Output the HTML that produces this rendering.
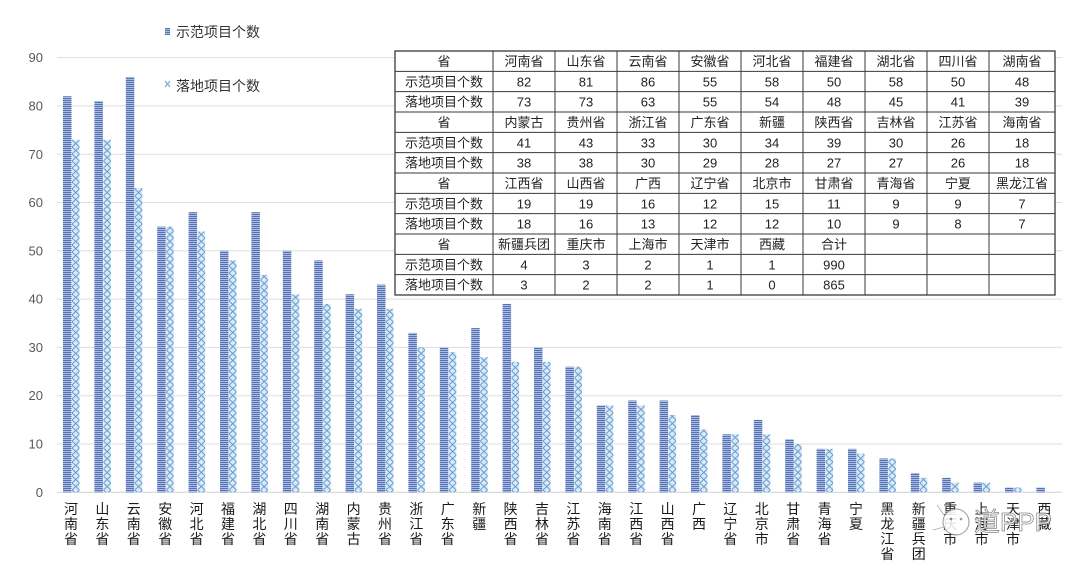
<!DOCTYPE html>
<html><head><meta charset="utf-8"><style>
html,body{margin:0;padding:0;background:#fff;}
svg{display:block;}
text{font-family:"Liberation Sans","Noto Sans CJK SC",sans-serif;}
</style></head><body>
<svg width="1080" height="572" viewBox="0 0 1080 572" xmlns="http://www.w3.org/2000/svg">
<defs>
<pattern id="st" patternUnits="userSpaceOnUse" width="9" height="2">
<rect x="0" y="0" width="9" height="2" fill="#b6c4e6"/>
<rect x="0" y="0" width="9" height="1.1" fill="#5572b4"/>
</pattern>
<pattern id="cr" patternUnits="userSpaceOnUse" width="7.5" height="7">
<rect x="0" y="0" width="7.5" height="7" fill="#d4ecf9"/>
<path d="M0,0 L7.5,7 M7.5,0 L0,7" stroke="#6590c8" stroke-width="0.9" fill="none"/>
</pattern>
</defs>
<rect width="1080" height="572" fill="#fff"/>
<g stroke="#dedede" stroke-width="1">
<line x1="57" y1="57.6" x2="1062" y2="57.6"/>
<line x1="57" y1="105.9" x2="1062" y2="105.9"/>
<line x1="57" y1="154.2" x2="1062" y2="154.2"/>
<line x1="57" y1="202.5" x2="1062" y2="202.5"/>
<line x1="57" y1="250.8" x2="1062" y2="250.8"/>
<line x1="57" y1="299.1" x2="1062" y2="299.1"/>
<line x1="57" y1="347.4" x2="1062" y2="347.4"/>
<line x1="57" y1="395.7" x2="1062" y2="395.7"/>
<line x1="57" y1="444" x2="1062" y2="444"/>
<line x1="57" y1="492.3" x2="1062" y2="492.3" stroke="#d0d0d0"/>
</g>
<g font-size="13" fill="#595959" text-anchor="end">
<text x="43" y="62">90</text>
<text x="43" y="110.5">80</text>
<text x="43" y="158.8">70</text>
<text x="43" y="207">60</text>
<text x="43" y="255.3">50</text>
<text x="43" y="303.6">40</text>
<text x="43" y="352">30</text>
<text x="43" y="400.2">20</text>
<text x="43" y="448.5">10</text>
<text x="43" y="496.8">0</text>
</g>
<rect x="165" y="28" width="5" height="7" fill="url(#st)"/>
<text x="176" y="37" font-size="14" fill="#333">示范项目个数</text>
<path d="M165,81 L170,87 M170,81 L165,87" stroke="#7fa6d6" stroke-width="1.2"/>
<text x="176" y="91" font-size="14" fill="#333">落地项目个数</text>
<g transform="translate(57,0)"><rect x="6" y="96.24" width="8.5" height="396.06" fill="url(#st)"/><rect x="15" y="139.71" width="7.5" height="352.59" fill="url(#cr)"/></g>
<g transform="translate(88.4,0)"><rect x="6" y="101.07" width="8.5" height="391.23" fill="url(#st)"/><rect x="15" y="139.71" width="7.5" height="352.59" fill="url(#cr)"/></g>
<g transform="translate(119.8,0)"><rect x="6" y="76.92" width="8.5" height="415.38" fill="url(#st)"/><rect x="15" y="188.01" width="7.5" height="304.29" fill="url(#cr)"/></g>
<g transform="translate(151.2,0)"><rect x="6" y="226.65" width="8.5" height="265.65" fill="url(#st)"/><rect x="15" y="226.65" width="7.5" height="265.65" fill="url(#cr)"/></g>
<g transform="translate(182.6,0)"><rect x="6" y="212.16" width="8.5" height="280.14" fill="url(#st)"/><rect x="15" y="231.48" width="7.5" height="260.82" fill="url(#cr)"/></g>
<g transform="translate(214,0)"><rect x="6" y="250.8" width="8.5" height="241.5" fill="url(#st)"/><rect x="15" y="260.46" width="7.5" height="231.84" fill="url(#cr)"/></g>
<g transform="translate(245.4,0)"><rect x="6" y="212.16" width="8.5" height="280.14" fill="url(#st)"/><rect x="15" y="274.95" width="7.5" height="217.35" fill="url(#cr)"/></g>
<g transform="translate(276.8,0)"><rect x="6" y="250.8" width="8.5" height="241.5" fill="url(#st)"/><rect x="15" y="294.27" width="7.5" height="198.03" fill="url(#cr)"/></g>
<g transform="translate(308.2,0)"><rect x="6" y="260.46" width="8.5" height="231.84" fill="url(#st)"/><rect x="15" y="303.93" width="7.5" height="188.37" fill="url(#cr)"/></g>
<g transform="translate(339.6,0)"><rect x="6" y="294.27" width="8.5" height="198.03" fill="url(#st)"/><rect x="15" y="308.76" width="7.5" height="183.54" fill="url(#cr)"/></g>
<g transform="translate(371,0)"><rect x="6" y="284.61" width="8.5" height="207.69" fill="url(#st)"/><rect x="15" y="308.76" width="7.5" height="183.54" fill="url(#cr)"/></g>
<g transform="translate(402.4,0)"><rect x="6" y="332.91" width="8.5" height="159.39" fill="url(#st)"/><rect x="15" y="347.4" width="7.5" height="144.9" fill="url(#cr)"/></g>
<g transform="translate(433.8,0)"><rect x="6" y="347.4" width="8.5" height="144.9" fill="url(#st)"/><rect x="15" y="352.23" width="7.5" height="140.07" fill="url(#cr)"/></g>
<g transform="translate(465.2,0)"><rect x="6" y="328.08" width="8.5" height="164.22" fill="url(#st)"/><rect x="15" y="357.06" width="7.5" height="135.24" fill="url(#cr)"/></g>
<g transform="translate(496.6,0)"><rect x="6" y="303.93" width="8.5" height="188.37" fill="url(#st)"/><rect x="15" y="361.89" width="7.5" height="130.41" fill="url(#cr)"/></g>
<g transform="translate(528,0)"><rect x="6" y="347.4" width="8.5" height="144.9" fill="url(#st)"/><rect x="15" y="361.89" width="7.5" height="130.41" fill="url(#cr)"/></g>
<g transform="translate(559.4,0)"><rect x="6" y="366.72" width="8.5" height="125.58" fill="url(#st)"/><rect x="15" y="366.72" width="7.5" height="125.58" fill="url(#cr)"/></g>
<g transform="translate(590.8,0)"><rect x="6" y="405.36" width="8.5" height="86.94" fill="url(#st)"/><rect x="15" y="405.36" width="7.5" height="86.94" fill="url(#cr)"/></g>
<g transform="translate(622.2,0)"><rect x="6" y="400.53" width="8.5" height="91.77" fill="url(#st)"/><rect x="15" y="405.36" width="7.5" height="86.94" fill="url(#cr)"/></g>
<g transform="translate(653.6,0)"><rect x="6" y="400.53" width="8.5" height="91.77" fill="url(#st)"/><rect x="15" y="415.02" width="7.5" height="77.28" fill="url(#cr)"/></g>
<g transform="translate(685,0)"><rect x="6" y="415.02" width="8.5" height="77.28" fill="url(#st)"/><rect x="15" y="429.51" width="7.5" height="62.79" fill="url(#cr)"/></g>
<g transform="translate(716.4,0)"><rect x="6" y="434.34" width="8.5" height="57.96" fill="url(#st)"/><rect x="15" y="434.34" width="7.5" height="57.96" fill="url(#cr)"/></g>
<g transform="translate(747.8,0)"><rect x="6" y="419.85" width="8.5" height="72.45" fill="url(#st)"/><rect x="15" y="434.34" width="7.5" height="57.96" fill="url(#cr)"/></g>
<g transform="translate(779.2,0)"><rect x="6" y="439.17" width="8.5" height="53.13" fill="url(#st)"/><rect x="15" y="444" width="7.5" height="48.3" fill="url(#cr)"/></g>
<g transform="translate(810.6,0)"><rect x="6" y="448.83" width="8.5" height="43.47" fill="url(#st)"/><rect x="15" y="448.83" width="7.5" height="43.47" fill="url(#cr)"/></g>
<g transform="translate(842,0)"><rect x="6" y="448.83" width="8.5" height="43.47" fill="url(#st)"/><rect x="15" y="453.66" width="7.5" height="38.64" fill="url(#cr)"/></g>
<g transform="translate(873.4,0)"><rect x="6" y="458.49" width="8.5" height="33.81" fill="url(#st)"/><rect x="15" y="458.49" width="7.5" height="33.81" fill="url(#cr)"/></g>
<g transform="translate(904.8,0)"><rect x="6" y="472.98" width="8.5" height="19.32" fill="url(#st)"/><rect x="15" y="477.81" width="7.5" height="14.49" fill="url(#cr)"/></g>
<g transform="translate(936.2,0)"><rect x="6" y="477.81" width="8.5" height="14.49" fill="url(#st)"/><rect x="15" y="482.64" width="7.5" height="9.66" fill="url(#cr)"/></g>
<g transform="translate(967.6,0)"><rect x="6" y="482.64" width="8.5" height="9.66" fill="url(#st)"/><rect x="15" y="482.64" width="7.5" height="9.66" fill="url(#cr)"/></g>
<g transform="translate(999,0)"><rect x="6" y="487.47" width="8.5" height="4.83" fill="url(#st)"/><rect x="15" y="487.47" width="7.5" height="4.83" fill="url(#cr)"/></g>
<g transform="translate(1030.4,0)"><rect x="6" y="487.47" width="8.5" height="4.83" fill="url(#st)"/></g>
<g font-size="14" fill="#1a1a1a" text-anchor="middle">
<text x="71" y="514"><tspan x="71">河</tspan><tspan x="71" dy="15">南</tspan><tspan x="71" dy="15">省</tspan></text>
<text x="102.4" y="514"><tspan x="102.4">山</tspan><tspan x="102.4" dy="15">东</tspan><tspan x="102.4" dy="15">省</tspan></text>
<text x="133.8" y="514"><tspan x="133.8">云</tspan><tspan x="133.8" dy="15">南</tspan><tspan x="133.8" dy="15">省</tspan></text>
<text x="165.2" y="514"><tspan x="165.2">安</tspan><tspan x="165.2" dy="15">徽</tspan><tspan x="165.2" dy="15">省</tspan></text>
<text x="196.6" y="514"><tspan x="196.6">河</tspan><tspan x="196.6" dy="15">北</tspan><tspan x="196.6" dy="15">省</tspan></text>
<text x="228" y="514"><tspan x="228">福</tspan><tspan x="228" dy="15">建</tspan><tspan x="228" dy="15">省</tspan></text>
<text x="259.4" y="514"><tspan x="259.4">湖</tspan><tspan x="259.4" dy="15">北</tspan><tspan x="259.4" dy="15">省</tspan></text>
<text x="290.8" y="514"><tspan x="290.8">四</tspan><tspan x="290.8" dy="15">川</tspan><tspan x="290.8" dy="15">省</tspan></text>
<text x="322.2" y="514"><tspan x="322.2">湖</tspan><tspan x="322.2" dy="15">南</tspan><tspan x="322.2" dy="15">省</tspan></text>
<text x="353.6" y="514"><tspan x="353.6">内</tspan><tspan x="353.6" dy="15">蒙</tspan><tspan x="353.6" dy="15">古</tspan></text>
<text x="385" y="514"><tspan x="385">贵</tspan><tspan x="385" dy="15">州</tspan><tspan x="385" dy="15">省</tspan></text>
<text x="416.4" y="514"><tspan x="416.4">浙</tspan><tspan x="416.4" dy="15">江</tspan><tspan x="416.4" dy="15">省</tspan></text>
<text x="447.8" y="514"><tspan x="447.8">广</tspan><tspan x="447.8" dy="15">东</tspan><tspan x="447.8" dy="15">省</tspan></text>
<text x="479.2" y="514"><tspan x="479.2">新</tspan><tspan x="479.2" dy="15">疆</tspan></text>
<text x="510.6" y="514"><tspan x="510.6">陕</tspan><tspan x="510.6" dy="15">西</tspan><tspan x="510.6" dy="15">省</tspan></text>
<text x="542" y="514"><tspan x="542">吉</tspan><tspan x="542" dy="15">林</tspan><tspan x="542" dy="15">省</tspan></text>
<text x="573.4" y="514"><tspan x="573.4">江</tspan><tspan x="573.4" dy="15">苏</tspan><tspan x="573.4" dy="15">省</tspan></text>
<text x="604.8" y="514"><tspan x="604.8">海</tspan><tspan x="604.8" dy="15">南</tspan><tspan x="604.8" dy="15">省</tspan></text>
<text x="636.2" y="514"><tspan x="636.2">江</tspan><tspan x="636.2" dy="15">西</tspan><tspan x="636.2" dy="15">省</tspan></text>
<text x="667.6" y="514"><tspan x="667.6">山</tspan><tspan x="667.6" dy="15">西</tspan><tspan x="667.6" dy="15">省</tspan></text>
<text x="699" y="514"><tspan x="699">广</tspan><tspan x="699" dy="15">西</tspan></text>
<text x="730.4" y="514"><tspan x="730.4">辽</tspan><tspan x="730.4" dy="15">宁</tspan><tspan x="730.4" dy="15">省</tspan></text>
<text x="761.8" y="514"><tspan x="761.8">北</tspan><tspan x="761.8" dy="15">京</tspan><tspan x="761.8" dy="15">市</tspan></text>
<text x="793.2" y="514"><tspan x="793.2">甘</tspan><tspan x="793.2" dy="15">肃</tspan><tspan x="793.2" dy="15">省</tspan></text>
<text x="824.6" y="514"><tspan x="824.6">青</tspan><tspan x="824.6" dy="15">海</tspan><tspan x="824.6" dy="15">省</tspan></text>
<text x="856" y="514"><tspan x="856">宁</tspan><tspan x="856" dy="15">夏</tspan></text>
<text x="887.4" y="514"><tspan x="887.4">黑</tspan><tspan x="887.4" dy="15">龙</tspan><tspan x="887.4" dy="15">江</tspan><tspan x="887.4" dy="15">省</tspan></text>
<text x="918.8" y="514"><tspan x="918.8">新</tspan><tspan x="918.8" dy="15">疆</tspan><tspan x="918.8" dy="15">兵</tspan><tspan x="918.8" dy="15">团</tspan></text>
<text x="950.2" y="514"><tspan x="950.2">重</tspan><tspan x="950.2" dy="15">庆</tspan><tspan x="950.2" dy="15">市</tspan></text>
<text x="981.6" y="514"><tspan x="981.6">上</tspan><tspan x="981.6" dy="15">海</tspan><tspan x="981.6" dy="15">市</tspan></text>
<text x="1013" y="514"><tspan x="1013">天</tspan><tspan x="1013" dy="15">津</tspan><tspan x="1013" dy="15">市</tspan></text>
<text x="1044.4" y="514"><tspan x="1044.4">西</tspan><tspan x="1044.4" dy="15">藏</tspan></text>
</g>
<g opacity="0.85">
<circle cx="956" cy="522" r="13" fill="#fff" stroke="#888" stroke-width="1"/>
<circle cx="951" cy="519" r="1.3" fill="#888"/><circle cx="961" cy="519" r="1.3" fill="#888"/>
<path d="M937,505 L944,515 M933,530 L944,527" stroke="#999" stroke-width="0.8"/>
<text x="974" y="531" font-size="26" fill="#fff" stroke="#777" stroke-width="0.8">道PPP</text>
</g>
<rect x="395" y="51" width="660" height="244" fill="#fff"/>
<g stroke="#3a3a3a" stroke-width="1" fill="none">
<rect x="395" y="51" width="660" height="244" stroke-width="1.3"/>
<line x1="395" y1="71.33" x2="1055" y2="71.33"/>
<line x1="395" y1="91.67" x2="1055" y2="91.67"/>
<line x1="395" y1="112" x2="1055" y2="112"/>
<line x1="395" y1="132.33" x2="1055" y2="132.33"/>
<line x1="395" y1="152.67" x2="1055" y2="152.67"/>
<line x1="395" y1="173" x2="1055" y2="173"/>
<line x1="395" y1="193.33" x2="1055" y2="193.33"/>
<line x1="395" y1="213.67" x2="1055" y2="213.67"/>
<line x1="395" y1="234" x2="1055" y2="234"/>
<line x1="395" y1="254.33" x2="1055" y2="254.33"/>
<line x1="395" y1="274.67" x2="1055" y2="274.67"/>
<line x1="493" y1="51" x2="493" y2="295"/>
<line x1="555" y1="51" x2="555" y2="295"/>
<line x1="617" y1="51" x2="617" y2="295"/>
<line x1="679" y1="51" x2="679" y2="295"/>
<line x1="741" y1="51" x2="741" y2="295"/>
<line x1="803" y1="51" x2="803" y2="295"/>
<line x1="865" y1="51" x2="865" y2="295"/>
<line x1="927" y1="51" x2="927" y2="295"/>
<line x1="989" y1="51" x2="989" y2="295"/>
</g>
<g font-size="13" fill="#222" text-anchor="middle">
<text y="66"><tspan x="444">省</tspan><tspan x="524">河南省</tspan><tspan x="586">山东省</tspan><tspan x="648">云南省</tspan><tspan x="710">安徽省</tspan><tspan x="772">河北省</tspan><tspan x="834">福建省</tspan><tspan x="896">湖北省</tspan><tspan x="958">四川省</tspan><tspan x="1022">湖南省</tspan></text>
<text y="86.3"><tspan x="444">示范项目个数</tspan><tspan x="524">82</tspan><tspan x="586">81</tspan><tspan x="648">86</tspan><tspan x="710">55</tspan><tspan x="772">58</tspan><tspan x="834">50</tspan><tspan x="896">58</tspan><tspan x="958">50</tspan><tspan x="1022">48</tspan></text>
<text y="106.7"><tspan x="444">落地项目个数</tspan><tspan x="524">73</tspan><tspan x="586">73</tspan><tspan x="648">63</tspan><tspan x="710">55</tspan><tspan x="772">54</tspan><tspan x="834">48</tspan><tspan x="896">45</tspan><tspan x="958">41</tspan><tspan x="1022">39</tspan></text>
<text y="127"><tspan x="444">省</tspan><tspan x="524">内蒙古</tspan><tspan x="586">贵州省</tspan><tspan x="648">浙江省</tspan><tspan x="710">广东省</tspan><tspan x="772">新疆</tspan><tspan x="834">陕西省</tspan><tspan x="896">吉林省</tspan><tspan x="958">江苏省</tspan><tspan x="1022">海南省</tspan></text>
<text y="147.3"><tspan x="444">示范项目个数</tspan><tspan x="524">41</tspan><tspan x="586">43</tspan><tspan x="648">33</tspan><tspan x="710">30</tspan><tspan x="772">34</tspan><tspan x="834">39</tspan><tspan x="896">30</tspan><tspan x="958">26</tspan><tspan x="1022">18</tspan></text>
<text y="167.7"><tspan x="444">落地项目个数</tspan><tspan x="524">38</tspan><tspan x="586">38</tspan><tspan x="648">30</tspan><tspan x="710">29</tspan><tspan x="772">28</tspan><tspan x="834">27</tspan><tspan x="896">27</tspan><tspan x="958">26</tspan><tspan x="1022">18</tspan></text>
<text y="188"><tspan x="444">省</tspan><tspan x="524">江西省</tspan><tspan x="586">山西省</tspan><tspan x="648">广西</tspan><tspan x="710">辽宁省</tspan><tspan x="772">北京市</tspan><tspan x="834">甘肃省</tspan><tspan x="896">青海省</tspan><tspan x="958">宁夏</tspan><tspan x="1022">黑龙江省</tspan></text>
<text y="208.3"><tspan x="444">示范项目个数</tspan><tspan x="524">19</tspan><tspan x="586">19</tspan><tspan x="648">16</tspan><tspan x="710">12</tspan><tspan x="772">15</tspan><tspan x="834">11</tspan><tspan x="896">9</tspan><tspan x="958">9</tspan><tspan x="1022">7</tspan></text>
<text y="228.7"><tspan x="444">落地项目个数</tspan><tspan x="524">18</tspan><tspan x="586">16</tspan><tspan x="648">13</tspan><tspan x="710">12</tspan><tspan x="772">12</tspan><tspan x="834">10</tspan><tspan x="896">9</tspan><tspan x="958">8</tspan><tspan x="1022">7</tspan></text>
<text y="249"><tspan x="444">省</tspan><tspan x="524">新疆兵团</tspan><tspan x="586">重庆市</tspan><tspan x="648">上海市</tspan><tspan x="710">天津市</tspan><tspan x="772">西藏</tspan><tspan x="834">合计</tspan></text>
<text y="269.3"><tspan x="444">示范项目个数</tspan><tspan x="524">4</tspan><tspan x="586">3</tspan><tspan x="648">2</tspan><tspan x="710">1</tspan><tspan x="772">1</tspan><tspan x="834">990</tspan></text>
<text y="289.7"><tspan x="444">落地项目个数</tspan><tspan x="524">3</tspan><tspan x="586">2</tspan><tspan x="648">2</tspan><tspan x="710">1</tspan><tspan x="772">0</tspan><tspan x="834">865</tspan></text>
</g>
</svg>
</body></html>
